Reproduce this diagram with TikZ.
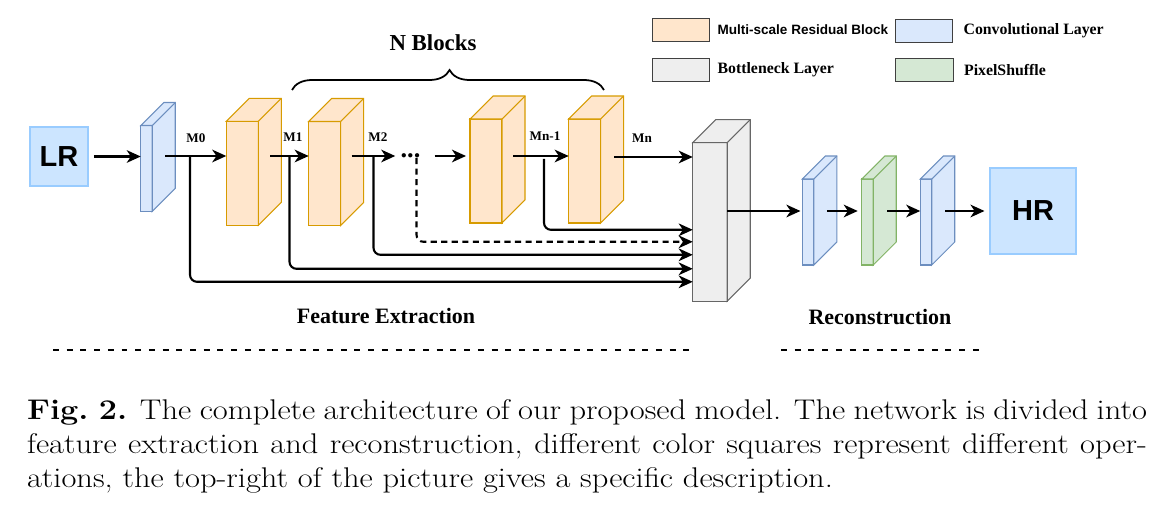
\documentclass[tikz,border=0pt]{standalone}
\usepackage{fontspec}
\newfontfamily\tnr{Liberation Serif}
\newfontfamily\arl{Liberation Sans}
\usetikzlibrary{arrows.meta,calc,positioning,decorations.pathreplacing}
\definecolor{msrbfill}{HTML}{FFE6CC}
\definecolor{msrbline}{HTML}{D79B00}
\definecolor{convfill}{HTML}{DAE8FC}
\definecolor{convline}{HTML}{6C8EBF}
\definecolor{psfill}{HTML}{D5E8D4}
\definecolor{psline}{HTML}{82B366}
\definecolor{bnfill}{HTML}{EEEEEE}
\definecolor{bnline}{HTML}{666666}
\definecolor{imgfill}{HTML}{CCE5FF}
\definecolor{imgline}{HTML}{99CCFF}
\begin{document}
\begin{tikzpicture}[x=0.02cm,y=-0.02cm]
	\tikzset{>={Stealth[length=8pt,width=7.2pt,inset=2.4pt]}}
	\tikzset{
		box/.style={outer sep=0pt,inner sep=0pt,line width=0.6pt},
		msrb/.style={box,draw=msrbline,fill=msrbfill,minimum width=0.64cm,minimum height=2.08cm},
		conv/.style={box,draw=convline,fill=convfill,minimum width=0.23cm,minimum height=1.72cm},
		shuffle/.style={box,draw=psline,fill=psfill,minimum width=0.23cm,minimum height=1.72cm},
		bottle/.style={box,draw=bnline,fill=bnfill,minimum width=0.69cm,minimum height=3.17cm},
		img/.style={box,draw=imgline,fill=imgfill,line width=1.1pt,font=\arl\bfseries\fontsize{16.5}{18}\selectfont},
		swatch/.style={box,draw=black!75,minimum width=1.15cm,minimum height=0.45cm},
		arr/.style={->,line width=1.2pt},
		tag/.style={inner sep=0pt,font=\tnr\bfseries\fontsize{7.5}{9}\selectfont},
		legtxt/.style={inner sep=0pt,anchor=west,font=\tnr\bfseries\fontsize{9}{11}\selectfont},
		part/.style={inner sep=0pt,font=\tnr\bfseries\fontsize{12.5}{15}\selectfont},
		sep/.style={line width=1.5pt,dash pattern=on 3.4pt off 4.4pt},
	}
	\useasboundingbox (0,0) rectangle (1164,510);
	
	% legend
	\node[swatch,fill=msrbfill] (k1) at (681,30) {};
	\node[swatch,fill=convfill] (k2) at (924,31) {};
	\node[swatch,fill=bnfill] (k3) at (681,70) {};
	\node[swatch,fill=psfill] (k4) at (924.5,70) {};
	\node[legtxt,right=0.15cm of k1,font=\arl\bfseries\fontsize{7.7}{9}\selectfont] (t1) {Multi-scale Residual Block};
	\node[legtxt,right=0.21cm of k2] (t2) {Convolutional Layer};
	\node[legtxt,right=0.15cm of k3] (t3) {Bottleneck Layer};
	\node[legtxt,right=0.21cm of k4] (t4) {PixelShuffle};
	
	% layers
	\node[img,minimum width=1.16cm,minimum height=1.18cm] (lr) at (59,156.5) {LR};
	\node[conv] (c1) at (146.5,168.5) {};
	\node[msrb] (b1) at (242.3,173.3) {};
	\node[msrb] (b2) at (324.7,173.5) {};
	\node[msrb] (b3) at (486,171) {};
	\node[msrb] (b4) at (584.7,171) {};
	\node[bottle] (bl) at (710,221.8) {};
	\node[conv] (c2) at (808.2,222) {};
	\node[shuffle] (ps) at (867.5,222) {};
	\node[conv] (c3) at (926,222) {};
	\node[img,minimum width=1.72cm,minimum height=1.71cm] (hr) at (1033,211) {HR};
	
	\foreach \n/\s in {c1/conv,b1/msrb,b2/msrb,b3/msrb,b4/msrb,bl/bottle,c2/conv,ps/shuffle,c3/conv}{
		\draw[\s] (\n.north west) -- ++(23,-23) -- ([shift={(23,-23)}]\n.north east) -- ([shift={(23,-23)}]\n.south east) -- (\n.south east) -- (\n.north east) -- cycle;
		\draw[\s] (\n.north east) -- ++(23,-23);
	}
	
	\node[anchor=base,inner sep=0pt,font=\tnr\bfseries\fontsize{15}{16}\selectfont] (dots) at (410.5,157.5) {...};
	
	\coordinate (m0) at (190,156);
	\coordinate (m1) at (289.5,156);
	\coordinate (m2) at (373.5,156);
	\coordinate (mx) at (416.5,158);
	\coordinate (mn1) at (544,156);
	
	% main path
	\draw[arr,shorten <=0.12cm] (lr.east) -- (lr.east -| c1.west);
	\draw[arr] ($(c1.east |- m0)+(13,0)$) -- (b1.west |- m0);
	\draw[arr] ($(b1.east |- m1)+(12,0)$) -- (b2.west |- m1);
	\draw[arr] ($(b2.east |- m2)+(11,0)$) -- ($(dots.west |- m2)+(-5,0)$);
	\draw[arr,shorten >=0.08cm] ($(dots.east |- m2)+(14,0)$) -- (b3.west |- m2);
	\draw[arr] ($(b3.east |- mn1)+(11,0)$) -- (b4.west |- mn1);
	\draw[arr] ($(b4.east)+(13.6,-14)$) -- ($(bl.west)+(0,-64.8)$);
	
	% skips
	\draw[arr,rounded corners=4pt] (m0) |- ($(bl.west)+(0,60)$);
	\draw[arr,rounded corners=4pt] (m1) |- ($(bl.west)+(0,47)$);
	\draw[arr,rounded corners=4pt] (m2) |- ($(bl.west)+(0,33)$);
	\draw[arr,rounded corners=4pt,dash pattern=on 3.5pt off 2.5pt] (mx) |- ($(bl.west)+(0,20)$);
	\draw[arr,rounded corners=4pt] ($(mn1)+(0,3)$) |- ($(bl.west)+(0,8)$);
	
	\node[tag] (lm0) at (196,138) {M0};
	\node[tag] (lm1) at (293,137) {M1};
	\node[tag] (lm2) at (378,137) {M2};
	\node[tag] (lmn1) at (545,136) {Mn-1};
	\node[tag] (lmn) at (642,138) {Mn};
	
	% reconstruction
	\draw[arr,shorten >=0.04cm] (bl.east |- hr) -- (c2.west |- hr);
	\draw[arr,shorten >=0.08cm] ($(c2.east |- hr)+(13,0)$) -- (ps.west |- hr);
	\draw[arr] ($(ps.east |- hr)+(14,0)$) -- (c3.west |- hr);
	\draw[arr,shorten >=0.11cm] ($(c3.east |- hr)+(13.6,0)$) -- (hr.west);
	
	% brace
	\coordinate (bra) at (292,90);
	\coordinate (brb) at (604,90);
	\draw[line width=1pt,decorate,decoration={brace,amplitude=0.4cm,aspect=0.505}] (bra) -- (brb);
	\node[part,font=\tnr\bfseries\fontsize{13}{15}\selectfont] (nb) at (433,43) {N Blocks};
	
	\node[part] (fe) at (386,316.5) {Feature Extraction};
	\node[part] (rc) at (880,317.5) {Reconstruction};
	\coordinate (d1) at (53,350);
	\coordinate (d2) at (694,350);
	\coordinate (d3) at (781,350);
	\coordinate (d4) at (981,350);
	\draw[sep] (d1) -- (d2);
	\draw[sep] (d3) -- (d4);
	
	\node[anchor=base west,inner sep=0pt,xscale=1.14,transform shape,text width=19.65cm,align=justify,font=\fontsize{16.2}{19.4}\selectfont] (cap) at (26.7,419.3) {\textbf{Fig.\ 2.} The complete architecture of our proposed model. The network is divided into\linebreak feature extraction and reconstruction, different color squares represent different oper-\linebreak ations, the top-right of the picture gives a specific description.};
\end{tikzpicture}
\end{document}
